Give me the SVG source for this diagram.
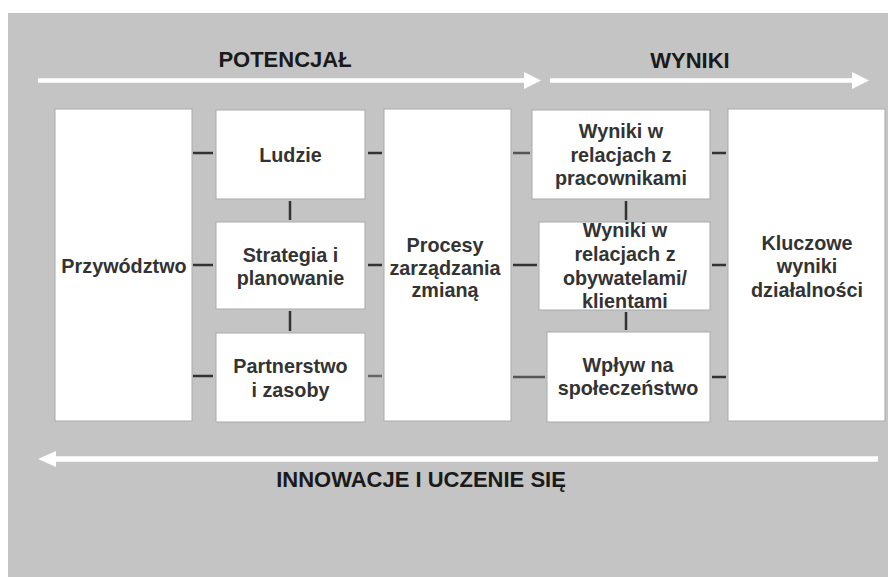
<svg xmlns="http://www.w3.org/2000/svg" width="888" height="577" viewBox="0 0 888 577">
<style>
.box{fill:#fff;stroke:#a9a9a9;stroke-width:1}
.t{font-family:"Liberation Sans",Arial,sans-serif;font-weight:bold;font-size:19.8px;fill:#333;text-anchor:middle}
.h{font-family:"Liberation Sans",Arial,sans-serif;font-weight:bold;font-size:22px;fill:#1a1a1a;text-anchor:middle}
.tick{stroke:#333;stroke-width:2.5;fill:none}
.arr{stroke:#fff;stroke-width:4.5;fill:none}
.head{fill:#fff}
</style>
<rect x="0" y="0" width="888" height="577" fill="#fff"/>
<rect x="8" y="13" width="880" height="564" fill="#c4c4c4"/>
<g id="arrows">
<line class="arr" x1="38" y1="80.5" x2="527" y2="80.5"/>
<polygon class="head" points="524,72 541,80.5 524,89"/>
<line class="arr" x1="550" y1="80.5" x2="855" y2="80.5"/>
<polygon class="head" points="852,72 869,80.5 852,89"/>
<line class="arr" x1="52" y1="459" x2="878" y2="459" style="stroke-width:5.5"/>
<polygon class="head" points="56,451 38,459 56,467"/>
</g>
<g id="labels">
<text class="h" x="285" y="67">POTENCJAŁ</text>
<text class="h" x="690" y="68">WYNIKI</text>
<text class="h" x="421" y="487">INNOWACJE I UCZENIE SIĘ</text>
</g>
<g id="connectors">
<line class="tick" x1="193" y1="153" x2="213" y2="153"/>
<line class="tick" x1="193" y1="265" x2="213" y2="265"/>
<line class="tick" x1="193" y1="376" x2="213" y2="376"/>
<line class="tick" x1="368" y1="153" x2="382" y2="153"/>
<line class="tick" x1="368" y1="265" x2="382" y2="265"/>
<line class="tick" x1="368" y1="376" x2="382" y2="376" style="stroke:#666"/>
<line class="tick" x1="290" y1="201" x2="290" y2="220"/>
<line class="tick" x1="290" y1="311" x2="290" y2="331"/>
<line class="tick" x1="513" y1="153" x2="530" y2="153" style="stroke:#555"/>
<line class="tick" x1="513" y1="265" x2="537" y2="265"/>
<line class="tick" x1="513" y1="377" x2="545" y2="377" style="stroke:#555"/>
<line class="tick" x1="712" y1="153" x2="726" y2="153"/>
<line class="tick" x1="712" y1="265" x2="726" y2="265"/>
<line class="tick" x1="712" y1="377" x2="726" y2="377"/>
<line class="tick" x1="626" y1="201" x2="626" y2="220"/>
<line class="tick" x1="626" y1="312" x2="626" y2="330"/>
</g>
<g id="przywodztwo">
<rect class="box" x="55" y="109" width="137" height="312"/>
<text class="t" x="124" y="273">Przywództwo</text>
</g>
<g id="ludzie">
<rect class="box" x="216" y="110" width="149" height="89"/>
<text class="t" x="290.5" y="162">Ludzie</text>
</g>
<g id="strategia">
<rect class="box" x="216" y="222" width="149" height="87"/>
<text class="t" x="290.5" y="262">Strategia i</text>
<text class="t" x="290.5" y="285">planowanie</text>
</g>
<g id="partnerstwo">
<rect class="box" x="216" y="333" width="149" height="89"/>
<text class="t" x="290.5" y="373">Partnerstwo</text>
<text class="t" x="290.5" y="397">i zasoby</text>
</g>
<g id="procesy">
<rect class="box" x="384" y="109" width="127" height="312"/>
<text class="t" x="445" y="252">Procesy</text>
<text class="t" x="445" y="275">zarządzania</text>
<text class="t" x="445" y="297">zmianą</text>
</g>
<g id="wyniki-pracownicy">
<rect class="box" x="532" y="110" width="178" height="89"/>
<text class="t" x="621" y="138">Wyniki w</text>
<text class="t" x="621" y="162">relacjach z</text>
<text class="t" x="621" y="185">pracownikami</text>
</g>
<g id="wyniki-obywatele">
<rect class="box" x="539" y="222" width="171" height="88"/>
<text class="t" x="625" y="237">Wyniki w</text>
<text class="t" x="625" y="261">relacjach z</text>
<text class="t" x="625" y="285">obywatelami/</text>
<text class="t" x="625" y="308">klientami</text>
</g>
<g id="wplyw">
<rect class="box" x="547" y="332" width="163" height="90"/>
<text class="t" x="628" y="372">Wpływ na</text>
<text class="t" x="628" y="395">społeczeństwo</text>
</g>
<g id="kluczowe">
<rect class="box" x="728" y="109" width="157" height="312"/>
<text class="t" x="807" y="250">Kluczowe</text>
<text class="t" x="807" y="273">wyniki</text>
<text class="t" x="807" y="297">działalności</text>
</g>
</svg>
